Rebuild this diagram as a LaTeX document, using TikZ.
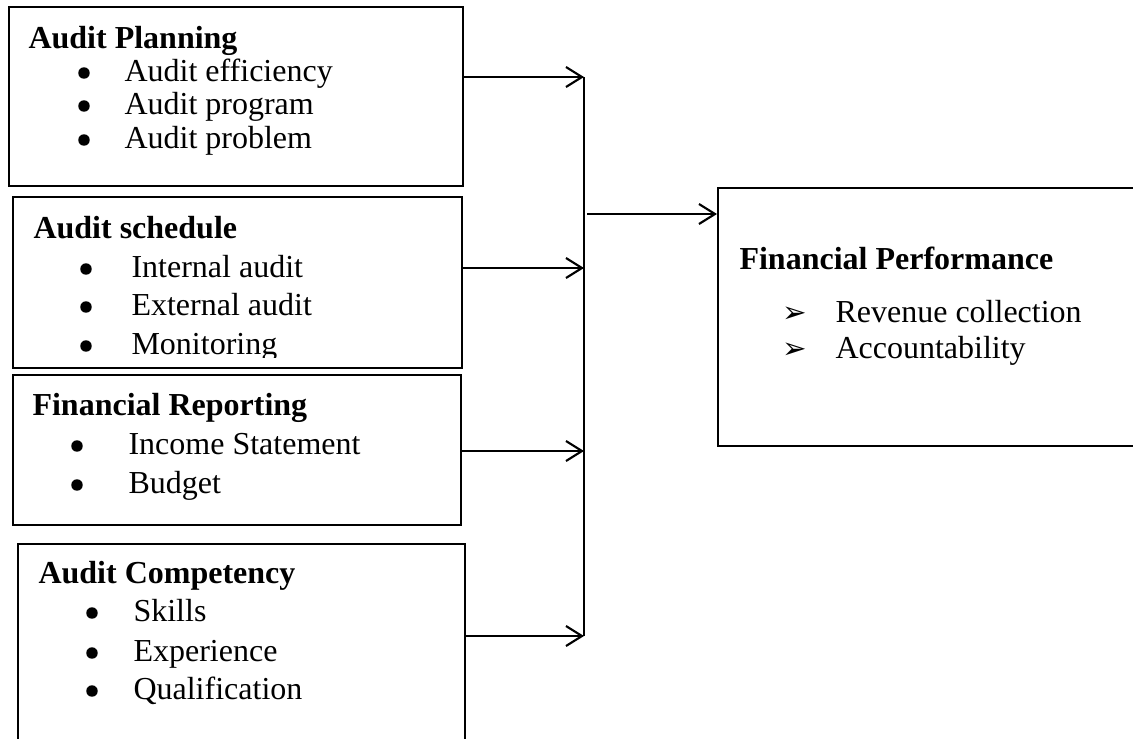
\documentclass[tikz,border=0pt]{standalone}
\usepackage{fontspec}
\setmainfont{Liberation Serif}
\newfontfamily\symfont{DejaVu Sans}
\usetikzlibrary{arrows.meta}

\newcommand{\pbox}[5]{%
  % #1 name, #2 x, #3 y, #4 w, #5 h (in px)
  \node[pbox, anchor=north west, minimum width=#4*0.375pt, minimum height=#5*0.375pt] (#1) at (#2,#3) {};%
}
\newcommand{\bitem}[5]{%
  % #1 name, #2 bullet x, #3 text x, #4 baseline, #5 text
  \node[dot] (#1-b) at (#2,#4-8) {};
  \node[itm, anchor=base west] (#1) at (#3,#4) {#5};%
}
\newcommand{\aitem}[5]{%
  % same, with arrow bullet
  \node[adot, anchor=base] (#1-b) at (#2,#4) {\smash{\symfont ➢}};
  \node[itm, anchor=base west] (#1) at (#3,#4) {#5};%
}

\begin{document}
\begin{tikzpicture}[x=0.375pt, y=-0.375pt,
  pbox/.style={draw, line width=0.8pt, inner sep=0pt},
  head/.style={font=\fontsize{12pt}{14pt}\selectfont\bfseries, inner sep=0pt},
  itm/.style={font=\fontsize{12pt}{14pt}\selectfont, inner sep=0pt},
  dot/.style={circle, fill, inner sep=0pt, minimum size=4.3pt},
  adot/.style={font=\fontsize{11pt}{12pt}\selectfont, inner sep=0pt},
  conn/.style={-{Straight Barb[length=6pt, width=7.5pt]}, line width=0.8pt}]

\useasboundingbox (0,0) rectangle (1133,738);
\clip (0,0) rectangle (1133,738);

% ===== BOXES =====
\pbox{plan}{8}{6}{454}{179}
\pbox{sched}{12}{196}{449}{171}
\pbox{report}{12}{374}{448}{150}
\pbox{comp}{17}{543}{447}{215}
\pbox{perf}{717}{187}{440}{258}

% ===== AUDIT PLANNING =====
\node[head, anchor=base west] (plan-h) at (28,48) {Audit Planning};
\bitem{plan-1}{84}{124}{81}{Audit efficiency}
\bitem{plan-2}{84}{124}{114}{Audit program}
\bitem{plan-3}{84}{124}{148}{Audit problem}

% ===== AUDIT SCHEDULE =====
\node[head, anchor=base west] (sched-h) at (33,238) {Audit schedule};
\bitem{sched-1}{86}{131}{277}{Internal audit}
\bitem{sched-2}{86}{131}{315}{External audit}
\begin{scope}
  \clip (0,196) rectangle (461,357);
  \bitem{sched-3}{86}{131}{354}{Monitoring}
\end{scope}

% ===== FINANCIAL REPORTING =====
\node[head, anchor=base west] (report-h) at (32,415) {Financial Reporting};
\bitem{report-1}{77}{128}{454}{Income Statement}
\bitem{report-2}{77}{128}{493}{Budget}

% ===== AUDIT COMPETENCY =====
\node[head, anchor=base west] (comp-h) at (38,583) {Audit Competency};
\bitem{comp-1}{92}{133}{621}{Skills}
\bitem{comp-2}{92}{133}{661}{Experience}
\bitem{comp-3}{92}{133}{699}{Qualification}

% ===== FINANCIAL PERFORMANCE =====
\node[head, anchor=base west] (perf-h) at (739,269) {Financial Performance};
\aitem{perf-1}{795}{835}{322}{Revenue collection}
\aitem{perf-2}{795}{835}{358}{Accountability}

% ===== CONNECTIONS =====
\coordinate (j1) at (584,77);
\coordinate (j2) at (584,268);
\coordinate (j3) at (584,451);
\coordinate (j4) at (584,636);
\coordinate (jm) at (587,214);
\draw[conn] (plan.east |- j1) -- (j1);
\draw[conn] (sched.east |- j2) -- (j2);
\draw[conn] (report.east |- j3) -- (j3);
\draw[conn] (comp.east |- j4) -- (j4);
\draw[line width=0.8pt] (j1) -- (j4);
\draw[conn] (jm) -- (perf.west |- jm);

\end{tikzpicture}
\end{document}
